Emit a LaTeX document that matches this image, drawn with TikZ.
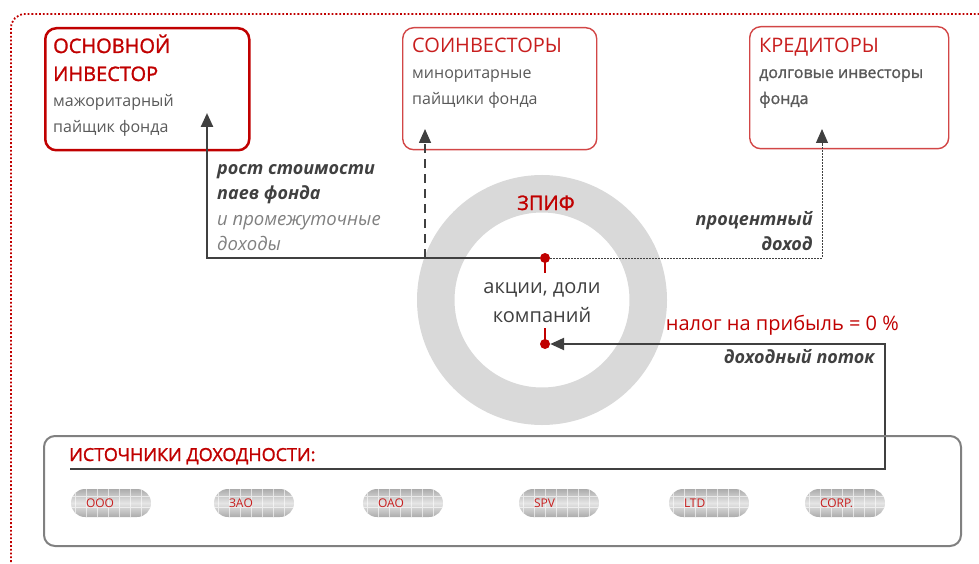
\documentclass[tikz,border=0pt]{standalone}
\usepackage{fontspec}
\setmainfont{Open Sans}
\newfontfamily\semib[FakeBold=1.4]{Open Sans}
\usepackage{tikz}
\usetikzlibrary{positioning, arrows.meta}

\definecolor{zred}{HTML}{C00000}
\definecolor{lred}{HTML}{D24646}
\definecolor{tred}{HTML}{C81E1E}
\definecolor{txtgray}{HTML}{595959}
\definecolor{dkgray}{HTML}{404040}
\definecolor{ringgray}{HTML}{D9D9D9}
\definecolor{boxgray}{HTML}{808080}

\tikzset{
  party/.style={rectangle, draw=lred, line width=1.4pt, rounded corners=11pt,
    minimum height=122pt, inner sep=0pt, anchor=north west},
  ttl/.style={anchor=base west, inner sep=0pt, font=\fontsize{20}{24}\selectfont},
  sub/.style={anchor=base west, inner sep=0pt, text=txtgray, font=\fontsize{16}{19}\selectfont},
  lbl/.style={inner sep=0pt, text=dkgray, font=\fontsize{18}{22}\selectfont\bfseries\itshape},
  dot/.style={circle, fill=zred, inner sep=0pt, minimum size=10pt},
  flow/.style={draw=dkgray, line width=2.4pt, -{Triangle[width=12pt,length=14pt]}},
  pill/.style={rectangle, rounded corners=14pt, minimum width=80pt, minimum height=28pt,
    text width=50pt, inner xsep=15pt, inner ysep=0pt, align=left, text=tred,
    font=\fontsize{12}{14}\selectfont, top color=gray!65, bottom color=gray!65, middle color=gray!20,
    path picture={\draw[white, line width=0.9pt, opacity=0.6]
      (path picture bounding box.south west) grid[step=11pt] (path picture bounding box.north east);}}
}

\begin{document}
\begin{tikzpicture}[x=1pt, y=-1pt]
\useasboundingbox (0,0) rectangle (979,564);

% outer dotted frame
\draw[zred, line width=1.8pt, dash pattern=on 1.8pt off 2pt, rounded corners=14pt]
  (11,600) -- (11,14) -- (1000,14);

% the fund in the middle
\node[circle, draw=ringgray, line width=37.5pt, minimum size=212.5pt, inner sep=0pt] (fund) at (542,300) {};
\node[anchor=base, inner sep=0pt, text=zred, font=\fontsize{20}{24}\semib] (zpif) at (546,210) {ЗПИФ};
\node[anchor=base, inner sep=0pt, text=dkgray, font=\fontsize{20}{24}\selectfont] (assets) at (542,293) {акции, доли};
\node[anchor=base, inner sep=0pt, text=dkgray, font=\fontsize{20}{24}\selectfont] (assets2) at (542,322) {компаний};

% holders
\node[party, draw=zred, line width=2.5pt, minimum width=204pt] (inv) at (44,27) {};
\node[party, minimum width=194pt] (coinv) at (402,27) {};
\node[party, minimum width=199pt] (cred) at (749,26) {};

\node[ttl, text=zred, font=\fontsize{20}{24}\semib] (invT) at (53,53) {ОСНОВНОЙ};
\node[ttl, text=zred, font=\fontsize{20}{24}\semib] (invT2) at (53,81) {ИНВЕСТОР};
\node[sub] (invS) at (53,107) {мажоритарный};
\node[sub] (invS2) at (53,133) {пайщик фонда};

\node[ttl, text=tred] (coT) at (412,53) {СОИНВЕСТОРЫ};
\node[sub] (coS) at (412,79) {миноритарные};
\node[sub] (coS2) at (412,105) {пайщики фонда};

\node[ttl, text=tred] (crT) at (759,53) {КРЕДИТОРЫ};
\node[sub, font=\fontsize{16}{19}\semib] (crS) at (759,78) {долговые инвесторы};
\node[sub, font=\fontsize{16}{19}\semib] (crS2) at (759,104) {фонда};

% junctions and arrow ends
\node[dot] (dTop) at (545,258) {};
\node[dot] (dBot) at (545,344) {};
\coordinate (pInv) at (207,113);
\coordinate (pCo) at (425,129);
\coordinate (pCr) at (822,129);
\coordinate (jCo) at (425,258);
\coordinate (uL) at (70,469);
\coordinate (uR) at (885,469);

% flows
\draw[flow] (dTop) -| (pInv);
\draw[flow, line width=1.6pt, dash pattern=on 9pt off 6pt] (jCo) -- (pCo);
\draw[flow, line width=1pt, dash pattern=on 1.5pt off 1.5pt] (dTop) -| (pCr);
\draw[flow] (uL) -- (uR) |- (dBot);
\draw[zred, line width=1.6pt] (dTop.center) -- ++(0,15);
\draw[zred, line width=1.6pt] (dBot.center) -- ++(0,-16);

% flow labels
\node[lbl, anchor=base west] (gain) at (217,175) {рост стоимости};
\node[lbl, anchor=base west] (gain2) at (217,200) {паев фонда};
\node[lbl, anchor=base west, font=\fontsize{18.5}{22}\selectfont\itshape, text=boxgray] (gain3) at (217,225) {и промежуточные};
\node[lbl, anchor=base west, font=\fontsize{18.5}{22}\selectfont\itshape, text=boxgray] (gain4) at (217,250) {доходы};
\node[lbl, anchor=base east] (intr) at (813,225) {процентный};
\node[lbl, anchor=base east] (intr2) at (813,250) {доход};
\node[anchor=base east, inner sep=0pt, text=zred, font=\fontsize{20}{24}\selectfont] (tax) at (899,330) {налог на прибыль = 0 \%};
\node[lbl, anchor=base east] (stream) at (875,363) {доходный поток};

% sources of income
\node[rectangle, draw=boxgray, line width=2pt, rounded corners=11pt, minimum width=917pt,
  minimum height=110pt, anchor=north west] (src) at (43,435) {};
\node[anchor=base west, inner sep=0pt, text=zred, font=\fontsize{18}{22}\semib] (srcT) at (69,461) {ИСТОЧНИКИ ДОХОДНОСТИ:};
\foreach \x/\t [count=\i] in {111/ООО, 254/ЗАО, 403/ОАО, 559/SPV, 709/LTD, 845/CORP.}
  \node[pill] (firm\i) at (\x,503) {\t};

\end{tikzpicture}
\end{document}
